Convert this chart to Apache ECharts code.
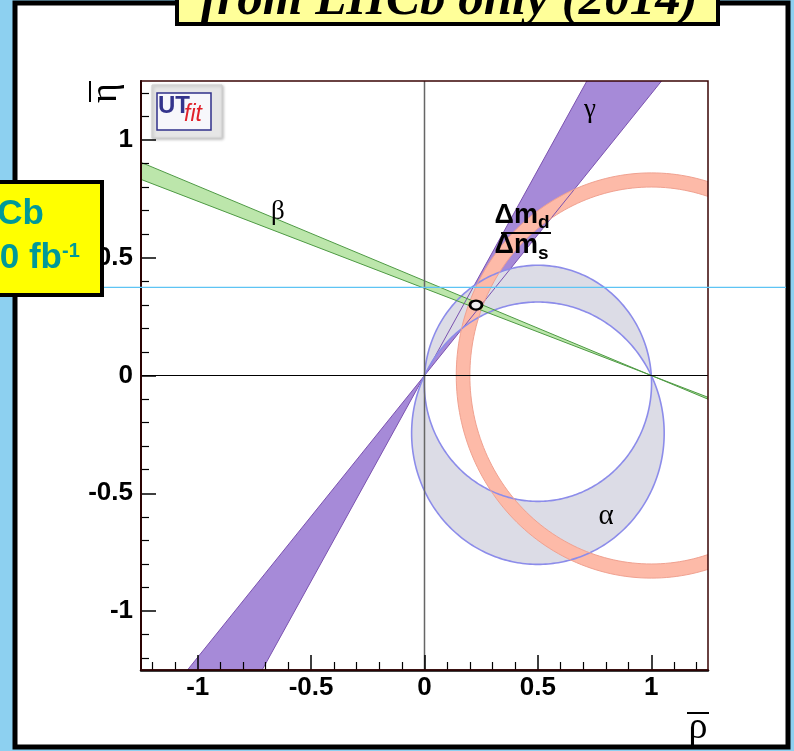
<!DOCTYPE html>
<html>
<head>
<meta charset="utf-8">
<script src="https://cdn.jsdelivr.net/npm/echarts@6/dist/echarts.min.js"></script>
<style>
  html, body { margin: 0; padding: 0; background: #8dd0f0; }
  #chart { width: 794px; height: 751px; }
</style>
</head>
<body>
<div id="chart"></div>
<script>
// Unitarity-triangle constraints in the (rho-bar, eta-bar) plane.
const majorTicks = [-1, -0.5, 0, 0.5, 1];
const minorTicks = [-1.2, -1.1, -0.9, -0.8, -0.7, -0.6, -0.4, -0.3, -0.2, -0.1,
                    0.1, 0.2, 0.3, 0.4, 0.6, 0.7, 0.8, 0.9, 1.1, 1.2];
const gammaDeg = [50.1, 60.2];     // gamma: band of rays through the origin
const betaDeg = [20.3, 21.9];      // beta: band of rays through (1, 0)
const alphaDeg = [93.8, 116.1];    // alpha: arcs through (0, 0) and (1, 0)
const dmRadius = [0.80, 0.86];     // dm_d / dm_s: ring centred on (1, 0)
const fitPoint = [0.227, 0.299];   // combined fit
const etaGuide = 0.374;            // horizontal guide at the fitted eta

// Where the constraint names are written (data coordinates).
const gammaLabelAt = [0.730, 1.127];
const betaLabelAt = [-0.646, 0.694];
const alphaLabelAt = [0.801, -0.596];
const ratioLabelAt = [0.4475, 0.605];

const FAR = 6;
const deg = d => d * Math.PI / 180;

function arc(cx, cy, r, t0, t1, n) {
  const pts = [];
  for (let i = 0; i <= n; i++) {
    const t = t0 + (t1 - t0) * i / n;
    pts.push([cx + r * Math.cos(t), cy + r * Math.sin(t)]);
  }
  return pts;
}

// Circle of constant alpha through (0,0) and (1,0).
function alphaCircle(aDeg) {
  const a = deg(aDeg);
  const c = 0.5 / Math.tan(a);
  const r = Math.abs(0.5 / Math.sin(a));
  const t0 = Math.atan2(-c, -0.5);
  const t1 = Math.atan2(-c, 0.5);
  return {
    upper: arc(0.5, c, r, t0, t1, 120),
    lower: arc(0.5, c, r, t0, t1 + 2 * Math.PI, 200)
  };
}

const circA = alphaCircle(alphaDeg[0]);
const circB = alphaCircle(alphaDeg[1]);
const alphaUpper = circA.upper.concat(circB.upper.slice().reverse());
const alphaLower = circB.lower.concat(circA.lower.slice().reverse());

const ringOuter = arc(1, 0, dmRadius[1], 0, 2 * Math.PI, 240);
const ringInner = arc(1, 0, dmRadius[0], 0, 2 * Math.PI, 240);
const ringFill = ringOuter.concat(ringInner.slice().reverse());

const gammaDir = g => [Math.cos(deg(g)), Math.sin(deg(g))];
const gammaWedges = [1, -1].map(s => [[0, 0],
  [s * FAR * gammaDir(gammaDeg[0])[0], s * FAR * gammaDir(gammaDeg[0])[1]],
  [s * FAR * gammaDir(gammaDeg[1])[0], s * FAR * gammaDir(gammaDeg[1])[1]]]);
const gammaEdges = gammaDeg.map(g => [[-FAR * gammaDir(g)[0], -FAR * gammaDir(g)[1]],
                                      [FAR * gammaDir(g)[0], FAR * gammaDir(g)[1]]]);

const betaDir = b => [-Math.cos(deg(b)), Math.sin(deg(b))];
const betaWedges = [1, -1].map(s => [[1, 0],
  [1 + s * FAR * betaDir(betaDeg[0])[0], s * FAR * betaDir(betaDeg[0])[1]],
  [1 + s * FAR * betaDir(betaDeg[1])[0], s * FAR * betaDir(betaDeg[1])[1]]]);
const betaEdges = betaDeg.map(b => [[1 - FAR * betaDir(b)[0], -FAR * betaDir(b)[1]],
                                    [1 + FAR * betaDir(b)[0], FAR * betaDir(b)[1]]]);

const COL = {
  gammaFill: '#a68ad8', gammaLine: '#7b52b0',
  alphaFill: '#dcdce6', alphaLine: '#8c8cea',
  ringFill: '#fdbaa8', ringLine: '#f0a190',
  betaFill: '#bce6ab', betaLine: '#4e9a44'
};

function toPx(api, pts) { return pts.map(p => api.coord(p)); }

function shapeSeries(name, z, build, clip) {
  return {
    type: 'custom', name: name, z: z, clip: clip !== false, silent: true,
    data: [0],
    renderItem: (params, api) => ({ type: 'group', children: build(api) })
  };
}

const poly = (api, pts, fill, stroke, lw) => ({
  type: 'polygon', shape: { points: toPx(api, pts) },
  style: { fill: fill, stroke: stroke || null, lineWidth: lw || 0 }
});
const pline = (api, pts, stroke, lw) => ({
  type: 'polyline', shape: { points: toPx(api, pts) },
  style: { fill: null, stroke: stroke, lineWidth: lw }
});

const serif = '"Liberation Serif", "DejaVu Serif", serif';
const sans = '"Liberation Sans", Arial, sans-serif';

function greek(api, text, at, size) {
  const p = api.coord(at);
  return { type: 'text', x: p[0], y: p[1],
    style: { text: text, font: size + 'px ' + serif, fill: '#000',
             align: 'center', verticalAlign: 'middle' } };
}

function ratioLabel(api) {
  const p = api.coord(ratioLabelAt);
  const t = (txt, x, y, size, align) => ({ type: 'text', x: x, y: y,
    style: { text: txt, font: 'bold ' + size + 'px ' + sans, fill: '#000',
             align: align, verticalAlign: 'middle' } });
  return [{ type: 'group', x: p[0], y: p[1], children: [
    t('Δm', 12, -17, 27, 'right'),
    t('d', 12, -10, 19, 'left'),
    { type: 'line', shape: { x1: -25, y1: 0, x2: 25, y2: 0 }, style: { stroke: '#000', lineWidth: 2 } },
    t('Δm', 12, 13, 27, 'right'),
    t('s', 12, 21, 19, 'left')
  ] }];
}

const chart = echarts.init(document.getElementById('chart'), null, { renderer: 'canvas' });

const axisCommon = {
  type: 'value', min: -1.25, max: 1.25, z: 10,
  splitLine: { show: false }
};
const tickFont = { color: '#000', fontFamily: sans, fontWeight: 'bold', fontSize: 26 };

const option = {
  backgroundColor: '#8dd0f0',
  animation: false,
  grid: { left: 141, top: 81, width: 567, height: 589, show: true,
          borderColor: '#3a0505', borderWidth: 1.5, backgroundColor: 'transparent', z: 12 },
  xAxis: [
    Object.assign({}, axisCommon, {
      position: 'bottom',
      axisLine: { show: true, onZero: false, lineStyle: { color: '#000', width: 2.5 } },
      axisTick: { show: true, inside: true, length: 15, customValues: majorTicks,
                  lineStyle: { color: '#000', width: 1.5 } },
      axisLabel: Object.assign({ show: true, customValues: majorTicks, margin: 5 }, tickFont)
    }),
    Object.assign({}, axisCommon, {
      position: 'bottom',
      axisLine: { show: false, onZero: false },
      axisTick: { show: true, inside: true, length: 8, customValues: minorTicks,
                  lineStyle: { color: '#000', width: 1.2 } },
      axisLabel: { show: false }
    })
  ],
  yAxis: [
    Object.assign({}, axisCommon, {
      position: 'left',
      axisLine: { show: true, onZero: false, lineStyle: { color: '#000', width: 2 } },
      axisTick: { show: true, inside: true, length: 15, customValues: majorTicks,
                  lineStyle: { color: '#000', width: 1.5 } },
      axisLabel: Object.assign({ show: true, customValues: majorTicks, margin: 8 }, tickFont)
    }),
    Object.assign({}, axisCommon, {
      position: 'left',
      axisLine: { show: false, onZero: false },
      axisTick: { show: true, inside: true, length: 8, customValues: minorTicks,
                  lineStyle: { color: '#000', width: 1.2 } },
      axisLabel: { show: false }
    })
  ],
  series: [
    // filled regions
    shapeSeries('gamma', 2, api => gammaWedges.map(w => poly(api, w, COL.gammaFill))),
    shapeSeries('alpha', 3, api => [poly(api, alphaUpper, COL.alphaFill), poly(api, alphaLower, COL.alphaFill)]),
    shapeSeries('dmd/dms', 4, api => [poly(api, ringFill, COL.ringFill)]),
    shapeSeries('beta', 5, api => betaWedges.map(w => poly(api, w, COL.betaFill))),
    // region outlines
    shapeSeries('gamma edge', 6, api => gammaEdges.map(e => pline(api, e, COL.gammaLine, 1))),
    shapeSeries('alpha edge', 6, api => [circA.upper, circA.lower, circB.upper, circB.lower]
      .map(a => pline(api, a, COL.alphaLine, 1.6))),
    shapeSeries('dm edge', 6, api => [ringOuter, ringInner].map(a => pline(api, a, COL.ringLine, 1))),
    shapeSeries('beta edge', 7, api => betaEdges.map(e => pline(api, e, COL.betaLine, 1))),
    // zero lines
    shapeSeries('zero lines', 8, api => [
      pline(api, [[0, -1.25], [0, 1.25]], '#666', 1.5),
      pline(api, [[-1.25, 0], [1.25, 0]], '#000', 1.2)
    ]),
    // guide at the fitted eta, across the panel
    shapeSeries('guide', 15, api => {
      const y = api.coord([0, etaGuide])[1];
      return [{ type: 'line', shape: { x1: 17, y1: y, x2: 786, y2: y },
                style: { stroke: '#5ec4f4', lineWidth: 1.2 } }];
    }, false),
    {
      type: 'scatter', name: 'fit', z: 20, silent: true,
      data: [fitPoint], symbol: 'circle', symbolSize: [12, 9],
      itemStyle: { color: '#eeeeee', borderColor: '#000', borderWidth: 2.5, opacity: 1 }
    },
    // constraint names
    shapeSeries('labels', 21, api => [
      greek(api, 'γ', gammaLabelAt, 27),
      greek(api, 'β', betaLabelAt, 27),
      greek(api, 'α', alphaLabelAt, 29)
    ].concat(ratioLabel(api)), false)
  ],
  graphic: [
    // slide panel
    { type: 'rect', z: 0, silent: true, shape: { x: 15, y: 3, width: 773, height: 744 },
      style: { fill: '#ffffff', stroke: '#000', lineWidth: 5 } },
    // axis titles
    { type: 'text', z: 30, x: 106, y: 93, rotation: Math.PI / 2,
      style: { text: 'η', font: '38px ' + serif, fill: '#000', align: 'center', verticalAlign: 'middle' } },
    { type: 'line', z: 30, shape: { x1: 90, y1: 81, x2: 90, y2: 102 }, style: { stroke: '#000', lineWidth: 2 } },
    { type: 'text', z: 30, x: 698, y: 728,
      style: { text: 'ρ', font: '38px ' + serif, fill: '#000', align: 'center', verticalAlign: 'middle' } },
    { type: 'line', z: 30, shape: { x1: 687, y1: 713, x2: 709, y2: 713 }, style: { stroke: '#000', lineWidth: 2 } },
    // UTfit badge
    { type: 'rect', z: 30, shape: { x: 152, y: 85, width: 70, height: 53 },
      style: { fill: '#e6e6e6', stroke: '#cfcfcf', lineWidth: 1, shadowColor: 'rgba(0,0,0,0.25)', shadowBlur: 3, shadowOffsetX: 1, shadowOffsetY: 1 } },
    { type: 'rect', z: 31, shape: { x: 157, y: 93, width: 54, height: 37 },
      style: { fill: '#f7f7fb', stroke: '#30308a', lineWidth: 1.5 } },
    { type: 'text', z: 32, x: 158, y: 106,
      style: { text: 'UT', font: 'bold 24px ' + sans, fill: '#34348c', align: 'left', verticalAlign: 'middle' } },
    { type: 'text', z: 32, x: 184, y: 115,
      style: { text: 'fit', font: 'italic 23px ' + sans, fill: '#e0202a', align: 'left', verticalAlign: 'middle' } },
    // experiment box at the left edge
    { type: 'rect', z: 100, shape: { x: -10, y: 182, width: 112, height: 113 },
      style: { fill: '#ffff00', stroke: '#000', lineWidth: 4 } },
    { type: 'text', z: 101, x: 44, y: 214,
      style: { text: 'LHCb', font: 'bold 35px ' + sans, fill: '#009999', align: 'right', verticalAlign: 'middle' } },
    { type: 'text', z: 101, x: 62, y: 258,
      style: { text: '3.0 fb', font: 'bold 35px ' + sans, fill: '#009999', align: 'right', verticalAlign: 'middle' } },
    { type: 'text', z: 101, x: 62, y: 251,
      style: { text: '-1', font: 'bold 20px ' + sans, fill: '#009999', align: 'left', verticalAlign: 'middle' } },
    // title box at the top edge
    { type: 'rect', z: 100, shape: { x: 177, y: -10, width: 541, height: 34 },
      style: { fill: '#ffff99', stroke: '#000', lineWidth: 4 } },
    { type: 'text', z: 101, x: 449, y: 1,
      style: { text: 'from LHCb only (2014)', font: 'italic bold 51px ' + serif, fill: '#000',
               align: 'center', verticalAlign: 'middle' } }
  ]
};

chart.setOption(option);
</script>
</body>
</html>
